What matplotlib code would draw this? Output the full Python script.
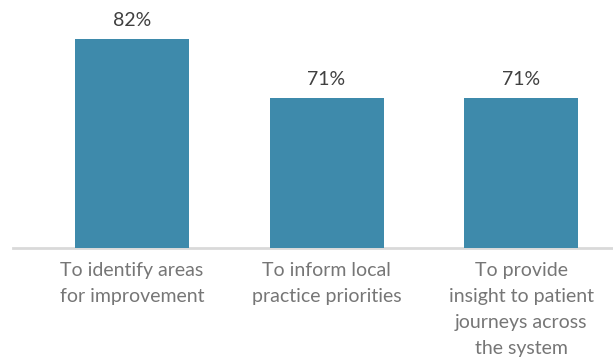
import matplotlib
matplotlib.use("Agg")
import matplotlib.pyplot as plt

categories = [
    "To identify areas\nfor improvement",
    "To inform local\npractice priorities",
    "To provide\ninsight to patient\njourneys across\nthe system",
]
values = [82, 71, 71]
value_labels = ["82%", "71%", "71%"]

plt.rcParams["font.family"] = ["Lato", "DejaVu Sans"]

fig = plt.figure(figsize=(6.13, 3.63), dpi=100)
ax = fig.add_axes([13 / 613, 1 - 248 / 363, 1 - 13 / 613, 248 / 363])

x = list(range(len(categories)))
bars = ax.bar(x, values, width=0.586, color="#3E8AAB", zorder=2)

ax.set_xlim(-0.612, 2.473)
ax.set_ylim(43.0, 89.2)

for xi, v, lab in zip(x, values, value_labels):
    ax.annotate(lab, (xi, v), xytext=(0, 9), textcoords="offset points",
                ha="center", va="baseline", fontsize=14, color="#404040")

for s in ["top", "right", "left"]:
    ax.spines[s].set_visible(False)
ax.spines["bottom"].set_color("#D9D9D9")
ax.spines["bottom"].set_linewidth(2)
ax.spines["bottom"].set_zorder(1)

ax.set_yticks([])
ax.set_xticks(x)
ax.set_xticklabels(categories, fontsize=14, color="#767676", linespacing=1.65)
ax.tick_params(axis="x", length=0, pad=10)

fig.savefig("out.png", dpi=100)
